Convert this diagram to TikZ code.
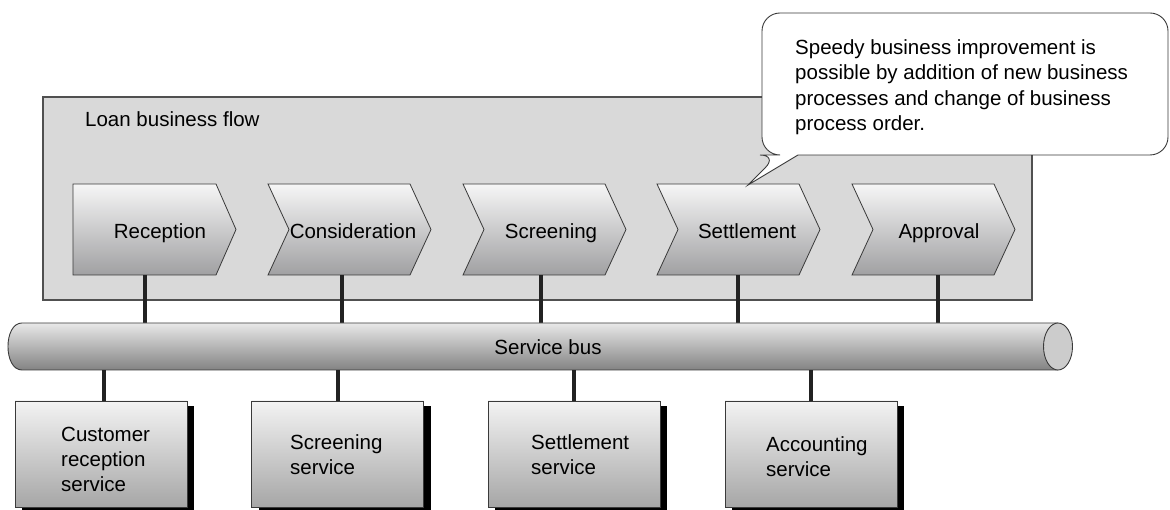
\documentclass[tikz,border=0pt]{standalone}
\usepackage{fontspec}
\setmainfont{Liberation Sans}
\usetikzlibrary{shadows}

\definecolor{panelFill}{HTML}{D9D9D9}
\definecolor{panelEdge}{HTML}{505050}
\definecolor{edge}{HTML}{3A3A3A}
\definecolor{stageTop}{HTML}{F6F6F6}
\definecolor{stageBot}{HTML}{A0A0A2}
\definecolor{busTop}{HTML}{E8E8E8}
\definecolor{busBot}{HTML}{838383}
\definecolor{capFill}{HTML}{CCCCCC}
\definecolor{svcTop}{HTML}{F3F3F3}
\definecolor{svcBot}{HTML}{A6A6A6}
\definecolor{linkc}{HTML}{222222}

\tikzset{
  panel/.style={draw=panelEdge, line width=1.1pt, fill=panelFill},
  stage/.style={draw=edge, line width=0.8pt, top color=stageTop, bottom color=stageBot},
  stagetext/.style={anchor=base, inner sep=0pt},
  busline/.style={draw=edge, line width=0.9pt},
  svc/.style={draw=edge, line width=0.8pt, top color=svcTop, bottom color=svcBot,
    minimum width=172pt, minimum height=106pt, inner sep=0pt,
    drop shadow={shadow xshift=7pt, shadow yshift=-5pt, fill=black, opacity=1}},
  svctext/.style={anchor=north west, inner sep=0pt, align=left},
  link/.style={draw=linkc, line width=4pt},
  callout/.style={draw=edge, line width=0.9pt, fill=white},
}

\begin{document}
\begin{tikzpicture}[x=1pt, y=-1pt, every node/.style={font=\fontsize{20.5}{25.3}\selectfont}]
\useasboundingbox (0,0) rectangle (1170,510);

% business flow panel
\draw[panel] (43,97) rectangle (1032,300);
\node[anchor=base west, inner sep=0pt] (flowlabel) at (85,126.5) {Loan business flow};

% process stages
\path[stage] (73,184) -- (216,184) -- (236,229.5) -- (216,275) -- (73,275) -- cycle;
\foreach \L in {268,463,657,852}
  \path[stage] (\L,184) -- ++(142,0) -- ++(21,45.5) -- ++(-21,45.5) -- ++(-142,0) -- ++(21,-45.5) -- cycle;

\node[stagetext] (s1) at (160,238.3) {Reception};
\node[stagetext] (s2) at (353,238.3) {Consideration};
\node[stagetext] (s3) at (551,238.3) {Screening};
\node[stagetext] (s4) at (747,238.3) {Settlement};
\node[stagetext] (s5) at (939,238.3) {Approval};

\coordinate (s1b) at (145,275);
\coordinate (s2b) at (342,275);
\coordinate (s3b) at (541,275);
\coordinate (s4b) at (738,275);
\coordinate (s5b) at (938,275);

% speech balloon
\draw[callout] (798,155) [rounded corners=18] -- (1168,155) -- (1168,13) -- (762,13)
  -- (762,155) -- (778,155) [sharp corners] -- (748,185) -- cycle;
\node[anchor=north west, inner sep=0pt, align=left] (note) at (795,39.5)
  {Speedy business improvement is\\possible by addition of new business\\processes and change of business\\process order.};

% service bus
\node[inner sep=0pt, minimum width=1036pt, minimum height=47pt] (bus) at (540,346.5) {};

\foreach \n in {s1b,s2b,s3b,s4b,s5b}
  \draw[link] (\n) -- (\n |- bus.north);

\shade[top color=busTop, bottom color=busBot]
  (22,323) -- (1058,323) -- (1058,370) -- (22,370) .. controls (3.3,370) and (3.3,323) .. (22,323);
\draw[busline] (1058,323) -- (22,323) .. controls (3.3,323) and (3.3,370) .. (22,370) -- (1058,370);
\draw[busline, fill=capFill] (1058,346.5) ellipse [x radius=14.5, y radius=23.5];
\node[anchor=base, inner sep=0pt] (buslabel) at (548,355) {Service bus};

% services
\node[svc] (cust) at (101,454) {};
\node[svc] (scr) at (337.5,454) {};
\node[svc] (sett) at (574,454) {};
\node[svc] (acc) at (811,454) {};

\node[svctext] (custtext) at (61,426.5) {Customer\\reception\\service};
\node[svctext] (scrtext) at (290,434) {Screening\\service};
\node[svctext] (setttext) at (531,434.5) {Settlement\\service};
\node[svctext] (acctext) at (766,436) {Accounting\\service};

\draw[link] ([xshift=3pt]cust.north) -- ([xshift=3pt]cust.north |- bus.south);
\foreach \n in {scr,sett,acc}
  \draw[link] (\n.north) -- (\n.north |- bus.south);
\end{tikzpicture}
\end{document}
